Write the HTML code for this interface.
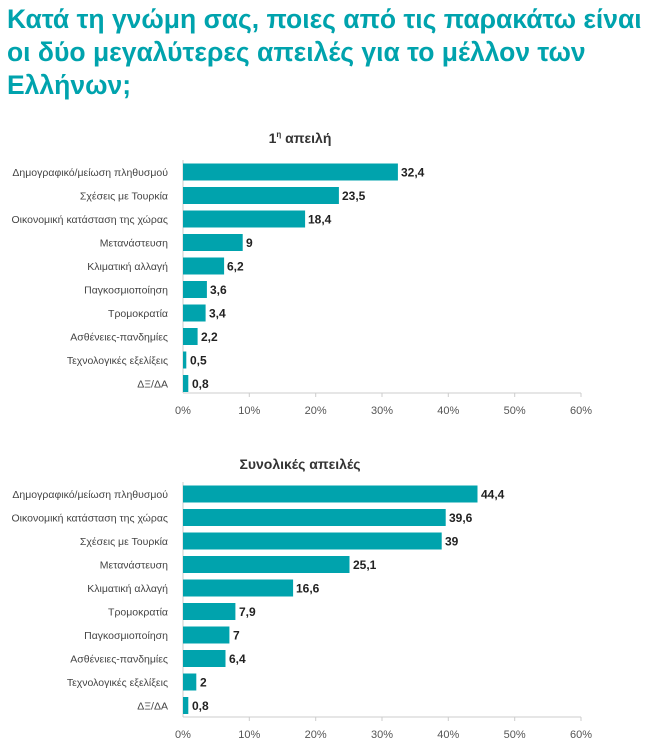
<!DOCTYPE html>
<html><head><meta charset="utf-8"><style>
html,body{margin:0;padding:0;background:#fff;}
svg{display:block;font-family:"Liberation Sans","DejaVu Sans",sans-serif;}
</style></head><body>
<svg width="650" height="743" xmlns="http://www.w3.org/2000/svg">
<g fill="#00a3ad" font-size="26.5" font-weight="bold">
<text x="7" y="28">Κατά τη γνώμη σας, ποιες από τις παρακάτω είναι</text>
<text x="7" y="61">οι δύο μεγαλύτερες απειλές για το μέλλον των</text>
<text x="7" y="94">Ελλήνων;</text>
</g>

<!-- Chart 1 -->
<text x="300" y="143" text-anchor="middle" font-size="14" font-weight="bold" fill="#333">1<tspan font-size="8" dy="-6">η</tspan><tspan dy="6"> απειλή</tspan></text>
<g stroke="#ccc">
<line x1="183" y1="160" x2="183" y2="393"/><line x1="183" y1="393" x2="581" y2="393"/>
<line x1="249.3" y1="393" x2="249.3" y2="397"/><line x1="315.7" y1="393" x2="315.7" y2="397"/><line x1="382" y1="393" x2="382" y2="397"/><line x1="448.3" y1="393" x2="448.3" y2="397"/><line x1="514.7" y1="393" x2="514.7" y2="397"/><line x1="581" y1="393" x2="581" y2="397"/>
</g>
<g font-size="11" fill="#555" text-anchor="middle">
<text x="183" y="414">0%</text><text x="249.3" y="414">10%</text><text x="315.7" y="414">20%</text><text x="382" y="414">30%</text><text x="448.3" y="414">40%</text><text x="514.7" y="414">50%</text><text x="581" y="414">60%</text>
</g>
<g font-size="10.5" fill="#444" text-anchor="end">
<text x="168" y="176">Δημογραφικό/μείωση πληθυσμού</text>
<text x="168" y="199.5">Σχέσεις με Τουρκία</text>
<text x="168" y="223">Οικονομική κατάσταση της χώρας</text>
<text x="168" y="246.5">Μετανάστευση</text>
<text x="168" y="270">Κλιματική αλλαγή</text>
<text x="168" y="293.5">Παγκοσμιοποίηση</text>
<text x="168" y="317">Τρομοκρατία</text>
<text x="168" y="340.5">Ασθένειες-πανδημίες</text>
<text x="168" y="364">Τεχνολογικές εξελίξεις</text>
<text x="168" y="387.5">ΔΞ/ΔΑ</text>
</g>
<g fill="#00a3ad">
<rect x="183" y="163.5" width="214.9" height="17"/>
<rect x="183" y="187" width="155.9" height="17"/>
<rect x="183" y="210.5" width="122.1" height="17"/>
<rect x="183" y="234" width="59.7" height="17"/>
<rect x="183" y="257.5" width="41.1" height="17"/>
<rect x="183" y="281" width="23.9" height="17"/>
<rect x="183" y="304.5" width="22.6" height="17"/>
<rect x="183" y="328" width="14.6" height="17"/>
<rect x="183" y="351.5" width="3.3" height="17"/>
<rect x="183" y="375" width="5.3" height="17"/>
</g>
<g font-size="12" font-weight="bold" fill="#222">
<text x="401" y="176.5">32,4</text>
<text x="342" y="200">23,5</text>
<text x="308" y="223.5">18,4</text>
<text x="246" y="247">9</text>
<text x="227" y="270.5">6,2</text>
<text x="210" y="294">3,6</text>
<text x="209" y="317.5">3,4</text>
<text x="201" y="341">2,2</text>
<text x="190" y="364.5">0,5</text>
<text x="192" y="388">0,8</text>
</g>

<!-- Chart 2 -->
<text x="300" y="469" text-anchor="middle" font-size="14" font-weight="bold" fill="#333">Συνολικές απειλές</text>
<g stroke="#ccc">
<line x1="183" y1="482" x2="183" y2="717"/><line x1="183" y1="717" x2="581" y2="717"/>
<line x1="249.3" y1="717" x2="249.3" y2="721"/><line x1="315.7" y1="717" x2="315.7" y2="721"/><line x1="382" y1="717" x2="382" y2="721"/><line x1="448.3" y1="717" x2="448.3" y2="721"/><line x1="514.7" y1="717" x2="514.7" y2="721"/><line x1="581" y1="717" x2="581" y2="721"/>
</g>
<g font-size="11" fill="#555" text-anchor="middle">
<text x="183" y="738">0%</text><text x="249.3" y="738">10%</text><text x="315.7" y="738">20%</text><text x="382" y="738">30%</text><text x="448.3" y="738">40%</text><text x="514.7" y="738">50%</text><text x="581" y="738">60%</text>
</g>
<g font-size="10.5" fill="#444" text-anchor="end">
<text x="168" y="498">Δημογραφικό/μείωση πληθυσμού</text>
<text x="168" y="521.5">Οικονομική κατάσταση της χώρας</text>
<text x="168" y="545">Σχέσεις με Τουρκία</text>
<text x="168" y="568.5">Μετανάστευση</text>
<text x="168" y="592">Κλιματική αλλαγή</text>
<text x="168" y="615.5">Τρομοκρατία</text>
<text x="168" y="639">Παγκοσμιοποίηση</text>
<text x="168" y="662.5">Ασθένειες-πανδημίες</text>
<text x="168" y="686">Τεχνολογικές εξελίξεις</text>
<text x="168" y="709.5">ΔΞ/ΔΑ</text>
</g>
<g fill="#00a3ad">
<rect x="183" y="485.5" width="294.5" height="17"/>
<rect x="183" y="509" width="262.7" height="17"/>
<rect x="183" y="532.5" width="258.7" height="17"/>
<rect x="183" y="556" width="166.5" height="17"/>
<rect x="183" y="579.5" width="110.1" height="17"/>
<rect x="183" y="603" width="52.4" height="17"/>
<rect x="183" y="626.5" width="46.4" height="17"/>
<rect x="183" y="650" width="42.5" height="17"/>
<rect x="183" y="673.5" width="13.3" height="17"/>
<rect x="183" y="697" width="5.3" height="17"/>
</g>
<g font-size="12" font-weight="bold" fill="#222">
<text x="481" y="498.5">44,4</text>
<text x="449" y="522">39,6</text>
<text x="445" y="545.5">39</text>
<text x="353" y="569">25,1</text>
<text x="296" y="592.5">16,6</text>
<text x="239" y="616">7,9</text>
<text x="233" y="639.5">7</text>
<text x="229" y="663">6,4</text>
<text x="200" y="686.5">2</text>
<text x="192" y="710">0,8</text>
</g>
</svg>
</body></html>
